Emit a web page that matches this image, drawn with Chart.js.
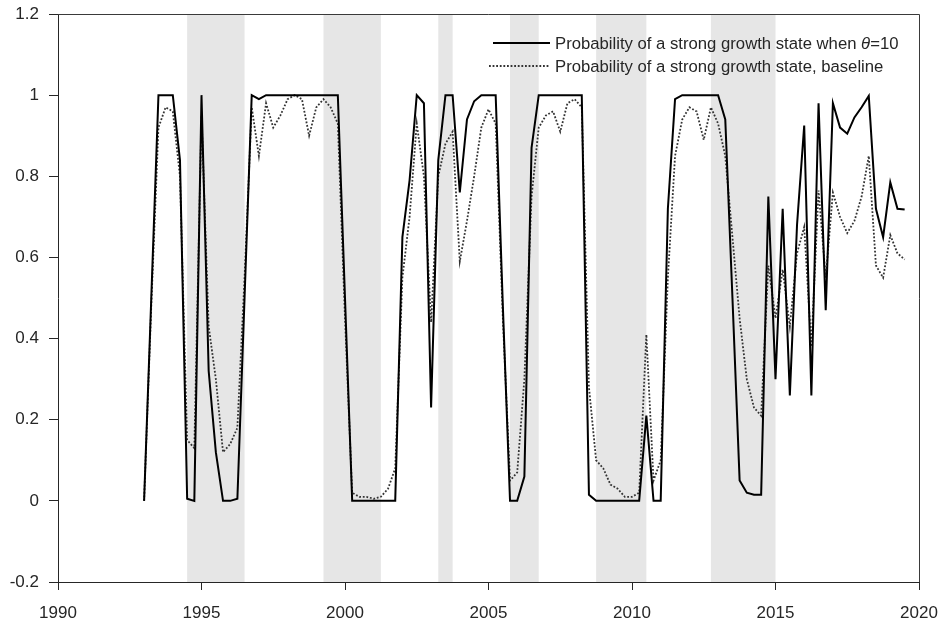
<!DOCTYPE html>
<html>
<head>
<meta charset="utf-8">
<script src="https://cdn.jsdelivr.net/npm/chart.js@4.4.1/dist/chart.umd.min.js"></script>
<style>
html, body { margin: 0; padding: 0; background: #ffffff; }
#wrap { width: 943px; height: 624px; }
</style>
</head>
<body>
<div id="wrap"><canvas id="c" width="943" height="624"></canvas></div>
<script>
// ---- data (quarterly, starting 1993 Q1) ----
const startYear = 1993;
const thetaSeries = [
  0.0, 0.5, 1.0, 1.0,
  1.0, 0.84, 0.005, 0.0,
  1.0, 0.32, 0.12, 0.0,
  0.0, 0.005, 0.5, 1.0,
  0.99, 1.0, 1.0, 1.0,
  1.0, 1.0, 1.0, 1.0,
  1.0, 1.0, 1.0, 1.0,
  0.5, 0.0, 0.0, 0.0,
  0.0, 0.0, 0.0, 0.0,
  0.65, 0.79, 1.0, 0.98,
  0.23, 0.84, 1.0, 1.0,
  0.76, 0.94, 0.985, 1.0,
  1.0, 1.0, 0.48, 0.0,
  0.0, 0.06, 0.87, 1.0,
  1.0, 1.0, 1.0, 1.0,
  1.0, 1.0, 0.015, 0.0,
  0.0, 0.0, 0.0, 0.0,
  0.0, 0.0, 0.21, 0.0,
  0.0, 0.72, 0.99, 1.0,
  1.0, 1.0, 1.0, 1.0,
  1.0, 0.94, 0.5, 0.05,
  0.02, 0.015, 0.015, 0.75,
  0.30, 0.72, 0.26, 0.68,
  0.925, 0.26, 0.98, 0.47,
  0.98, 0.92, 0.905, 0.945,
  0.97, 0.998, 0.72, 0.65,
  0.785, 0.72, 0.718
];
const baselineSeries = [
  0.0, 0.48, 0.92, 0.97,
  0.96, 0.80, 0.15, 0.13,
  0.95, 0.43, 0.30, 0.12,
  0.14, 0.18, 0.55, 0.97,
  0.85, 0.98, 0.92, 0.95,
  0.99, 1.0, 0.99, 0.90,
  0.97, 0.99, 0.97, 0.93,
  0.45, 0.02, 0.01, 0.01,
  0.005, 0.01, 0.03, 0.08,
  0.55, 0.70, 0.93, 0.80,
  0.44, 0.80, 0.88, 0.91,
  0.59, 0.69, 0.80, 0.92,
  0.965, 0.93, 0.45, 0.05,
  0.07, 0.30, 0.75, 0.92,
  0.95, 0.96, 0.91, 0.98,
  0.99, 0.97, 0.28, 0.10,
  0.08, 0.04, 0.03, 0.01,
  0.01, 0.02, 0.41, 0.05,
  0.10, 0.55, 0.85, 0.94,
  0.97, 0.96, 0.89, 0.97,
  0.93, 0.85, 0.65, 0.45,
  0.30, 0.23, 0.21, 0.58,
  0.45, 0.57, 0.43, 0.61,
  0.675, 0.38, 0.765, 0.55,
  0.76, 0.70, 0.66, 0.69,
  0.75, 0.85, 0.58, 0.55,
  0.655, 0.61, 0.595
];
const shadeStarts = [1994.5, 1999.25, 2003.25, 2005.75, 2008.75, 2012.75];
const shadeEnds   = [1996.5, 2001.25, 2003.75, 2006.75, 2010.5, 2015.0];
const xTicks = [1990, 1995, 2000, 2005, 2010, 2015, 2020];
const yTicks = [-0.2, 0, 0.2, 0.4, 0.6, 0.8, 1, 1.2];
const legendSolidText = ['Probability of a strong growth state when ', '\u03B8', '=10'];
const legendDottedText = 'Probability of a strong growth state, baseline';

const quarters = thetaSeries.map((_, i) => startYear + i / 4);

const FONT = '"Liberation Sans", Arial, Helvetica, sans-serif';
const TEXT = '#262626';
const DOT_DASH = [1.8, 1.8];
const LEG_SIZE = 16.7;

const shadePlugin = {
  id: 'shade',
  beforeDraw(chart) {
    const { ctx, chartArea: a, scales: { x } } = chart;
    ctx.save();
    ctx.fillStyle = '#e6e6e6';
    for (let i = 0; i < shadeStarts.length; i++) {
      const x0 = x.getPixelForValue(shadeStarts[i]);
      const x1 = x.getPixelForValue(shadeEnds[i]);
      ctx.fillRect(x0, a.top, x1 - x0, a.bottom - a.top);
    }
    ctx.restore();
  }
};

const framePlugin = {
  id: 'frame',
  afterDatasetsDraw(chart) {
    const { ctx, chartArea: a } = chart;
    ctx.save();
    ctx.strokeStyle = '#3a3a3a';
    ctx.lineWidth = 1;
    ctx.beginPath();
    ctx.moveTo(Math.round(a.left), Math.round(a.top) + 0.5);
    ctx.lineTo(Math.round(a.right) + 0.5, Math.round(a.top) + 0.5);
    ctx.lineTo(Math.round(a.right) + 0.5, Math.round(a.bottom));
    ctx.stroke();
    ctx.restore();
  }
};

const legendPlugin = {
  id: 'customLegend',
  afterDatasetsDraw(chart) {
    const { ctx, chartArea: a } = chart;
    const lx0 = a.right - 426, lx1 = a.right - 369, tx = a.right - 364;
    const r1 = a.top + 35, r2 = a.top + 58;
    ctx.save();
    ctx.strokeStyle = '#000';
    ctx.lineWidth = 2;
    ctx.beginPath();
    ctx.moveTo(lx0, a.top + 29); ctx.lineTo(lx1, a.top + 29);
    ctx.stroke();
    ctx.strokeStyle = '#333';
    ctx.lineWidth = 1.8;
    ctx.setLineDash(DOT_DASH);
    ctx.beginPath();
    ctx.moveTo(lx0 - 4, a.top + 52); ctx.lineTo(lx1, a.top + 52);
    ctx.stroke();
    ctx.setLineDash([]);
    ctx.fillStyle = TEXT;
    ctx.textBaseline = 'alphabetic';
    ctx.textAlign = 'left';
    let x = tx;
    ctx.font = LEG_SIZE + 'px ' + FONT;
    ctx.fillText(legendSolidText[0], x, r1);
    x += ctx.measureText(legendSolidText[0]).width;
    ctx.font = 'italic ' + LEG_SIZE + 'px ' + FONT;
    ctx.fillText(legendSolidText[1], x, r1);
    x += ctx.measureText(legendSolidText[1]).width;
    ctx.font = LEG_SIZE + 'px ' + FONT;
    ctx.fillText(legendSolidText[2], x, r1);
    ctx.fillText(legendDottedText, tx, r2);
    ctx.restore();
  }
};

new Chart(document.getElementById('c'), {
  type: 'line',
  data: {
    datasets: [
      {
        label: legendSolidText.join(''),
        data: quarters.map((q, i) => ({ x: q, y: thetaSeries[i] })),
        borderColor: '#000000',
        borderWidth: 2,
        pointRadius: 0,
        tension: 0,
        fill: false
      },
      {
        label: legendDottedText,
        data: quarters.map((q, i) => ({ x: q, y: baselineSeries[i] })),
        borderColor: '#333333',
        borderWidth: 1.8,
        borderDash: DOT_DASH,
        pointRadius: 0,
        tension: 0,
        fill: false
      }
    ]
  },
  options: {
    responsive: false,
    animation: false,
    devicePixelRatio: 1,
    layout: { padding: { top: 14, right: 24, left: 0, bottom: 0 } },
    plugins: { legend: { display: false }, tooltip: { enabled: false } },
    scales: {
      x: {
        type: 'linear',
        min: 1990, max: 2020,
        afterBuildTicks: s => { s.ticks = xTicks.map(v => ({ value: v })); },
        afterFit: s => { s.height = 42; s.paddingLeft = 0; s.paddingRight = 0; },
        grid: { display: true, drawOnChartArea: false, drawTicks: true, tickLength: 8, color: '#262626' },
        border: { display: true, color: '#262626', width: 1 },
        ticks: { color: TEXT, font: { family: FONT, size: 17 }, padding: 13, maxRotation: 0, autoSkip: false, callback: v => String(v) }
      },
      y: {
        min: -0.2, max: 1.2,
        afterBuildTicks: s => { s.ticks = yTicks.map(v => ({ value: v })); },
        afterFit: s => { s.width = 58; s.paddingTop = 0; s.paddingBottom = 0; },
        grid: { display: true, drawOnChartArea: false, drawTicks: true, tickLength: 9, color: '#262626' },
        border: { display: true, color: '#262626', width: 1 },
        ticks: { color: TEXT, font: { family: FONT, size: 17 }, padding: 10, autoSkip: false, callback: v => String(Math.round(v * 10) / 10) }
      }
    }
  },
  plugins: [shadePlugin, framePlugin, legendPlugin]
});
</script>
</body>
</html>
